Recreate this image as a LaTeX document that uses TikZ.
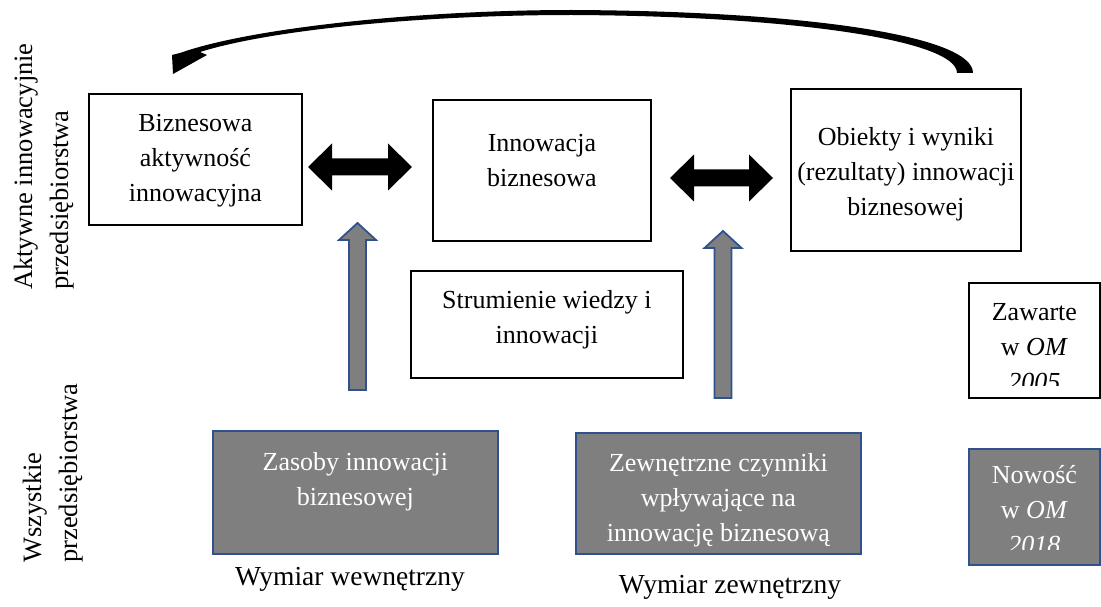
\documentclass[tikz,border=0pt]{standalone}
\usepackage{fontspec}
\setmainfont{Liberation Serif}
\usetikzlibrary{calc}

\definecolor{boxgray}{RGB}{127,127,127}
\definecolor{edgeblue}{RGB}{47,82,143}

\newcommand\boxfont{\fontsize{26}{35}\selectfont}
\newcommand\sidefont{\fontsize{26.5}{36}\selectfont}
\newcommand\dimfont{\fontsize{27.5}{36}\selectfont}

% vertical block arrow: centre x, tip y, bottom y
\newcommand\upblock[3]{%
  \draw[uparrow] (#1,#2) -- (#1+18.5,#2+17) -- (#1+8.5,#2+17) -- (#1+8.5,#3)
    -- (#1-8.5,#3) -- (#1-8.5,#2+17) -- (#1-18.5,#2+17) -- cycle;}
% horizontal double block arrow: left tip x, right tip x, centre y
\newcommand\twinblock[3]{%
  \fill[twinarrow] (#1,#3) -- (#1+24,#3-23.5) -- (#1+24,#3-8.5) -- (#2-24,#3-8.5)
    -- (#2-24,#3-23.5) -- (#2,#3) -- (#2-24,#3+23.5) -- (#2-24,#3+8.5)
    -- (#1+24,#3+8.5) -- (#1+24,#3+23.5) -- cycle;}

\begin{document}
\begin{tikzpicture}[x=1pt,y=-1pt,
  box/.style={inner sep=0pt, align=flush center, font=\boxfont, anchor=north west, line width=1.8pt},
  plainbox/.style={box, draw=black, fill=white},
  greybox/.style={box, draw=edgeblue, fill=boxgray, text=white},
  boxtext/.style={inner sep=0pt, align=flush center, font=\boxfont, anchor=base, text width=131pt},
  sidelabel/.style={rotate=90, align=flush left, inner sep=0pt, font=\sidefont, anchor=base west},
  dimlabel/.style={inner sep=0pt, font=\dimfont, anchor=base},
  twinarrow/.style={fill=black},
  uparrow/.style={draw=edgeblue, line width=1.8pt, fill=boxgray, line join=miter},
  loopfill/.style={fill=black}
]
\fill[white] (0,0) rectangle (1101,607);
\useasboundingbox (0,0) rectangle (1101,607);

% side captions
\node[sidelabel, text width=260pt] (active) at (32,290) {Aktywne innowacyjnie\\przedsiębiorstwa};
\node[sidelabel, text width=200pt] (all) at (41,563) {Wszystkie\\przedsiębiorstwa};

% upper row
\node[plainbox, text width=213pt, text height=38pt, text depth=93pt] (act) at (88,93)
  {Biznesowa\\aktywność\\innowacyjna};
\node[plainbox, text width=218pt, text height=52pt, text depth=89pt] (inn) at (432,99)
  {Innowacja\\biznesowa};
\node[plainbox, text width=230pt, text height=57pt, text depth=105pt] (res) at (790,88)
  {Obiekty i wyniki\\(rezultaty) innowacji\\biznesowej};

% middle
\node[plainbox, text width=272pt, text height=38pt, text depth=69pt] (flow) at (410,270)
  {Strumienie wiedzy i\\innowacji};

% lower row
\node[greybox, text width=285pt, text height=40pt, text depth=83pt] (res2) at (212,430)
  {Zasoby innowacji\\biznesowej};
\node[greybox, text width=285pt, text height=39pt, text depth=82pt] (ext) at (575,432)
  {Zewnętrzne czynniki\\wpływające na\\innowację biznesową};

% key on the right (last line cut off by the frame)
\node[plainbox, text width=131pt, text height=38pt, text depth=77pt] (old) at (968,282) {};
\begin{scope}
  \clip (968,282) rectangle (1099,385);
  \node[boxtext] (oldtext) at ($(old.north)+(0,38)$) {Zawarte\\w \textit{OM}\\\textit{2005}};
\end{scope}
\node[greybox, text width=131pt, text height=35pt, text depth=81pt] (new) at (968,448) {};
\begin{scope}
  \clip (968,448) rectangle (1099,549);
  \node[boxtext, text=white] (newtext) at ($(new.north)+(0,35)$) {Nowość\\w \textit{OM}\\\textit{2018}};
\end{scope}

% dimension captions
\node[dimlabel] (inner) at (350,585) {Wymiar wewnętrzny};
\node[dimlabel] (outer) at (730,593) {Wymiar zewnętrzny};

% block arrows between the boxes
\twinblock{308}{412}{167}
\twinblock{670}{773}{178}
\upblock{357.5}{223}{390}
\upblock{723}{231}{398}

% feedback arc from results back to activity
\fill[loopfill] (973,73) .. controls (973,35) and (800,11) .. (572,10)
  .. controls (420,10) and (250,28) .. (180,53)
  -- (172,55) -- (173,74) -- (207,55) -- (200,52)
  .. controls (270,30) and (420,15) .. (572,15)
  .. controls (790,16) and (957,40) .. (957,73) -- cycle;
\end{tikzpicture}
\end{document}
